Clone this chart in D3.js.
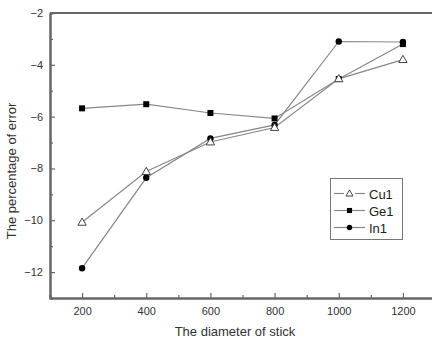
<!DOCTYPE html>
<html>
<head>
<meta charset="utf-8">
<script src="https://cdn.jsdelivr.net/npm/d3@7"></script>
<style>
  body { margin: 0; background: #fff; }
  svg { display: block; font-family: Arial, "Liberation Sans", sans-serif; }
</style>
</head>
<body>
<svg width="432" height="340"></svg>
<script>
let diameters = [200, 400, 600, 800, 1000, 1200];
let cu1 = [-10.08, -8.12, -6.98, -6.42, -4.54, -3.8];
let ge1 = [-5.68, -5.52, -5.86, -6.07, -4.55, -3.2];
let in1 = [-11.85, -8.36, -6.84, -6.32, -3.1, -3.12];
let xTicks = [200, 400, 600, 800, 1000, 1200];
let yTicks = [-2, -4, -6, -8, -10, -12];

let svg = d3.select("svg");
let margin = { left: 50, top: 13, right: 435, bottom: 298 };

let x = d3.scaleLinear().domain([100, 1300]).range([margin.left, margin.right]);
let y = d3.scaleLinear().domain([-13, -2]).range([margin.bottom, margin.top]);

let axisColor = "#666";

// frame top
svg.append("line")
    .attr("x1", margin.left).attr("x2", 432)
    .attr("y1", margin.top).attr("y2", margin.top)
    .attr("stroke", axisColor).attr("stroke-width", 2);

// x axis, ticks inward
let xAxis = svg.append("g")
    .attr("transform", "translate(0," + margin.bottom + ")")
    .call(d3.axisBottom(x).tickValues(xTicks).tickFormat(d3.format("d"))
        .tickSizeInner(-5).tickSizeOuter(0).tickPadding(9));
let xMinor = svg.append("g")
    .attr("transform", "translate(0," + margin.bottom + ")")
    .call(d3.axisBottom(x).tickValues([300, 500, 700, 900, 1100]).tickSize(-3).tickFormat(""));

// y axis, ticks inward
let yAxis = svg.append("g")
    .attr("transform", "translate(" + margin.left + ",0)")
    .call(d3.axisLeft(y).tickValues(yTicks).tickSizeInner(-5).tickSizeOuter(0).tickPadding(7));
let yMinor = svg.append("g")
    .attr("transform", "translate(" + margin.left + ",0)")
    .call(d3.axisLeft(y).tickValues([-3, -5, -7, -9, -11]).tickSize(-3).tickFormat(""));

[xAxis, xMinor, yAxis, yMinor].forEach(function (g) {
    g.select(".domain").attr("stroke", axisColor).attr("stroke-width", 2);
    g.selectAll(".tick line").attr("stroke", axisColor).attr("stroke-width", 1.2);
    g.selectAll("text").attr("fill", "#333").style("font-size", "11px");
});

// axis titles
svg.append("text")
    .attr("x", 235).attr("y", 336)
    .attr("text-anchor", "middle")
    .attr("fill", "#333")
    .style("font-size", "13px")
    .text("The diameter of stick");

svg.append("text")
    .attr("transform", "translate(16,171) rotate(-90)")
    .attr("text-anchor", "middle")
    .attr("fill", "#333")
    .style("font-size", "13px")
    .text("The percentage of error");

let series = [
    { name: "Cu1", values: cu1, marker: "triangle" },
    { name: "Ge1", values: ge1, marker: "square" },
    { name: "In1", values: in1, marker: "circle" }
];

let line = d3.line()
    .x(function (d, i) { return x(diameters[i]); })
    .y(function (d) { return y(d); });

function drawMarker(g, type, cx, cy, k) {
    if (type === "triangle") {
        g.append("path")
            .attr("d", d3.symbol().type(d3.symbolTriangle).size(30 * k * k)())
            .attr("transform", "translate(" + cx + "," + (cy + 0.5) + ")")
            .attr("fill", "#fff").attr("stroke", "#444").attr("stroke-width", 1);
    } else if (type === "square") {
        g.append("rect")
            .attr("x", cx - 3 * k).attr("y", cy - 3 * k)
            .attr("width", 6 * k).attr("height", 6 * k)
            .attr("fill", "#000");
    } else {
        g.append("circle")
            .attr("cx", cx).attr("cy", cy).attr("r", 3.2 * k)
            .attr("fill", "#000");
    }
}

series.forEach(function (s) {
    svg.append("path")
        .datum(s.values)
        .attr("d", line)
        .attr("fill", "none")
        .attr("stroke", "#888")
        .attr("stroke-width", 1.2);
});

// open triangles on top, like the original
[series[1], series[2], series[0]].forEach(function (s) {
    let g = svg.append("g");
    s.values.forEach(function (v, i) {
        drawMarker(g, s.marker, x(diameters[i]), y(v), 1);
    });
});

// legend
let legend = svg.append("g").attr("transform", "translate(330,178)");
legend.append("rect")
    .attr("x", 0.5).attr("y", 0.5)
    .attr("width", 72).attr("height", 61)
    .attr("fill", "#fff").attr("stroke", "#777").attr("stroke-width", 1);

series.forEach(function (s, i) {
    let ly = 15.5 + i * 17;
    let row = legend.append("g");
    row.append("line")
        .attr("x1", 4).attr("x2", 35)
        .attr("y1", ly).attr("y2", ly)
        .attr("stroke", "#888").attr("stroke-width", 1.2);
    if (s.marker === "triangle") {
        row.append("rect").attr("x", 14).attr("y", ly - 4).attr("width", 11).attr("height", 8).attr("fill", "#fff");
    }
    drawMarker(row, s.marker, 19.5, ly, 0.85);
    row.append("text")
        .attr("x", 39).attr("y", ly + 5)
        .attr("fill", "#222")
        .style("font-size", "13px")
        .text(s.name);
});
</script>
</body>
</html>
